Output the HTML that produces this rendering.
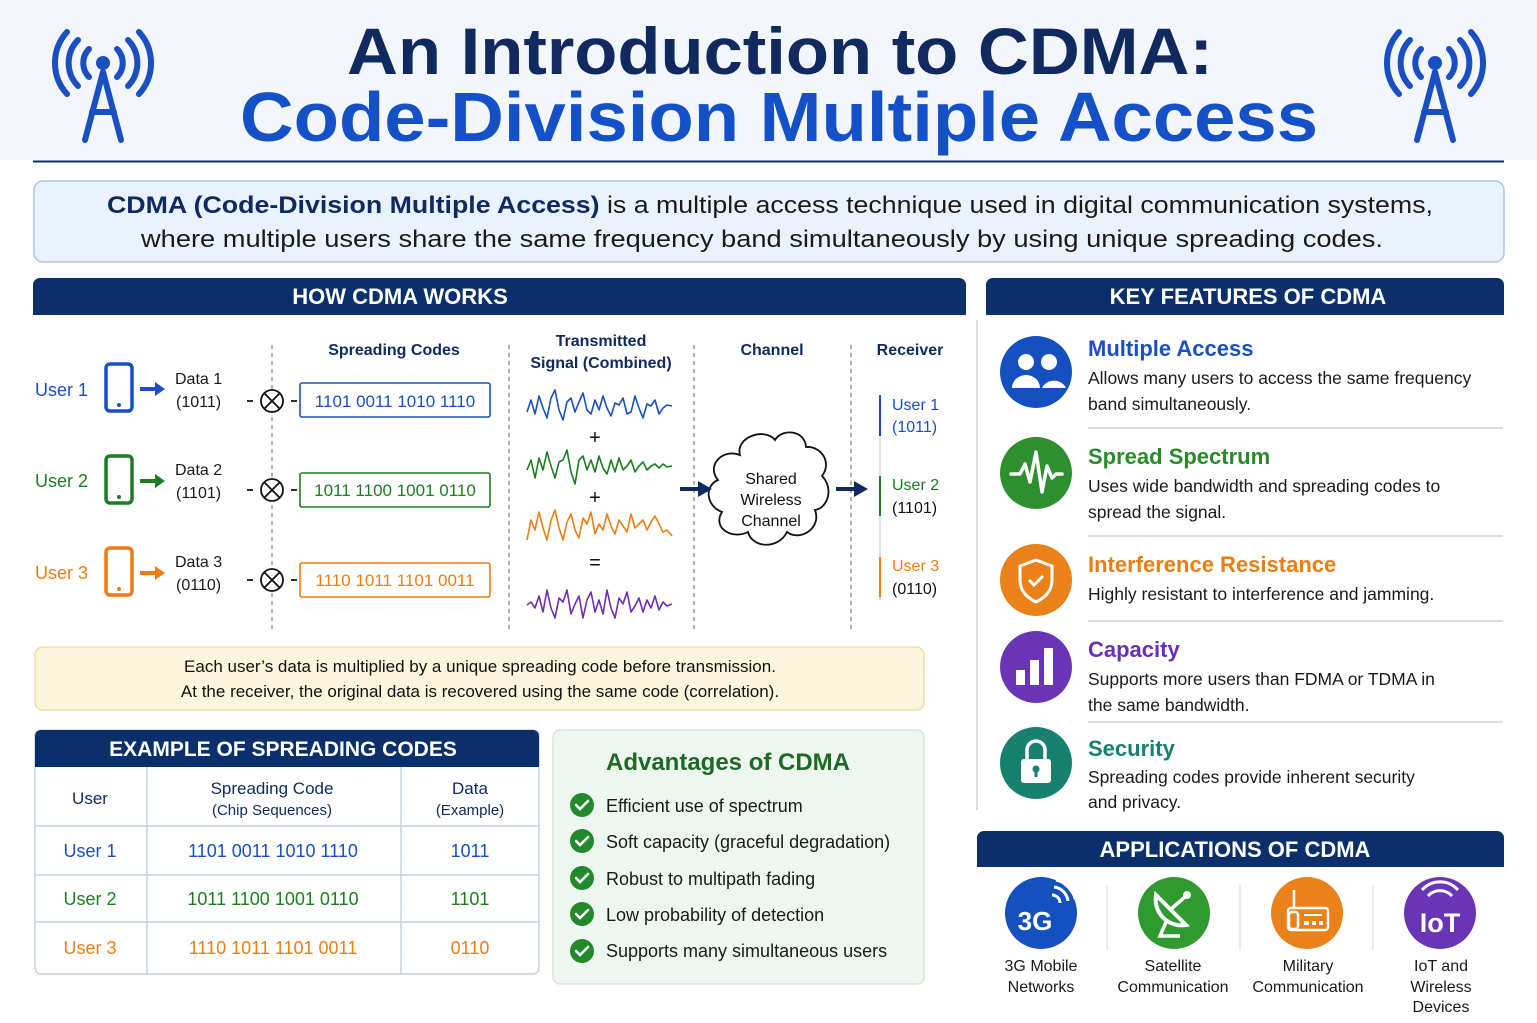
<!DOCTYPE html>
<html><head><meta charset="utf-8"><style>
html,body{margin:0;padding:0;background:#fff}
svg{display:block}
text{font-family:"Liberation Sans",Arial,sans-serif}
</style></head><body>
<svg width="1537" height="1023" viewBox="0 0 1537 1023" xmlns="http://www.w3.org/2000/svg">
<rect x="0" y="0" width="1537" height="1023" fill="#fff"/>
<rect x="0" y="0" width="1537" height="160" fill="#f3f6fb"/>
<line x1="33" y1="161.5" x2="1504" y2="161.5" stroke="#0d2d6b" stroke-width="2"/>

<!-- towers -->
<g id="tw" fill="none" stroke="#1a4fc4" stroke-width="6" stroke-linecap="round">
<path d="M103 72 L85 140 M103 72 L121 140 M92 112 L114 112"/>
<circle cx="103" cy="63" r="7" fill="#1a4fc4" stroke="none"/>
<path d="M89 49 A20 20 0 0 0 89 77 M117 49 A20 20 0 0 1 117 77"/>
<path d="M78 40 A33 33 0 0 0 78 86 M128 40 A33 33 0 0 1 128 86"/>
<path d="M67 32 A46 46 0 0 0 67 94 M139 32 A46 46 0 0 1 139 94"/>
</g>
<use href="#tw" x="1332"/>

<text x="780" y="74" text-anchor="middle" font-size="66" font-weight="bold" fill="#10295e" textLength="866" lengthAdjust="spacingAndGlyphs">An Introduction to CDMA:</text>
<text x="779" y="141" text-anchor="middle" font-size="70" font-weight="bold" fill="#1450c8" textLength="1078" lengthAdjust="spacingAndGlyphs">Code-Division Multiple Access</text>

<rect x="34" y="181" width="1470" height="81" rx="9" fill="#e9f2fd" stroke="#a9c5ec" stroke-width="1.5"/>
<text x="770" y="213" text-anchor="middle" font-size="24" fill="#1a1a1a" textLength="1326" lengthAdjust="spacingAndGlyphs"><tspan font-weight="bold" fill="#10295e">CDMA (Code-Division Multiple Access)</tspan> is a multiple access technique used in digital communication systems,</text>
<text x="762" y="247" text-anchor="middle" font-size="24" fill="#1a1a1a" textLength="1242" lengthAdjust="spacingAndGlyphs">where multiple users share the same frequency band simultaneously by using unique spreading codes.</text>

<!-- section bars -->
<path d="M33 315 V285 a7 7 0 0 1 7 -7 H959 a7 7 0 0 1 7 7 V315 Z" fill="#0b2f6b"/>
<text x="400" y="304" text-anchor="middle" font-size="22" font-weight="bold" fill="#fff">HOW CDMA WORKS</text>
<path d="M986 315 V285 a7 7 0 0 1 7 -7 H1497 a7 7 0 0 1 7 7 V315 Z" fill="#0b2f6b"/>
<text x="1248" y="304" text-anchor="middle" font-size="22" font-weight="bold" fill="#fff">KEY FEATURES OF CDMA</text>
<line x1="977" y1="320" x2="977" y2="810" stroke="#d8dde5" stroke-width="2"/>

<!-- dashed separators -->
<g stroke="#888" stroke-width="1.3" stroke-dasharray="4 4">
<line x1="272" y1="345" x2="272" y2="630"/>
<line x1="509" y1="345" x2="509" y2="630"/>
<line x1="694" y1="345" x2="694" y2="630"/>
<line x1="851" y1="345" x2="851" y2="630"/>
</g>
<g font-size="16" font-weight="bold" fill="#10295e" text-anchor="middle">
<text x="394" y="355">Spreading Codes</text>
<text x="601" y="346">Transmitted</text>
<text x="601" y="368">Signal (Combined)</text>
<text x="772" y="355">Channel</text>
<text x="910" y="355">Receiver</text>
</g>

<!-- users -->
<g font-size="18">
<text x="35" y="396" fill="#1a4fc4">User 1</text>
<text x="35" y="487" fill="#1e7d24">User 2</text>
<text x="35" y="579" fill="#ee7d14">User 3</text>
</g>
<g fill="none" stroke-width="3.5">
<rect x="106" y="364" width="26" height="47" rx="4" stroke="#1a4fc4"/>
<rect x="106" y="456" width="26" height="47" rx="4" stroke="#1e7d24"/>
<rect x="106" y="548" width="26" height="47" rx="4" stroke="#ee7d14"/>
</g>
<circle cx="119" cy="405" r="2" fill="#1a4fc4"/><circle cx="119" cy="497" r="2" fill="#1e7d24"/><circle cx="119" cy="589" r="2" fill="#ee7d14"/>
<g stroke-width="4">
<line x1="140" y1="389" x2="157" y2="389" stroke="#1a4fc4"/><path d="M155 382 L165 389 L155 396Z" fill="#1a4fc4"/>
<line x1="140" y1="481" x2="157" y2="481" stroke="#1e7d24"/><path d="M155 474 L165 481 L155 488Z" fill="#1e7d24"/>
<line x1="140" y1="573" x2="157" y2="573" stroke="#ee7d14"/><path d="M155 566 L165 573 L155 580Z" fill="#ee7d14"/>
</g>
<g font-size="16" fill="#1a1a1a">
<text x="175" y="384">Data 1</text><text x="176" y="407">(1011)</text>
<text x="175" y="475">Data 2</text><text x="176" y="498">(1101)</text>
<text x="175" y="567">Data 3</text><text x="176" y="590">(0110)</text>
</g>
<g stroke="#111" stroke-width="1.8" fill="#fff">
<circle cx="272" cy="401" r="11"/><path d="M264 393 L280 409 M280 393 L264 409"/>
<circle cx="272" cy="490" r="11"/><path d="M264 482 L280 498 M280 482 L264 498"/>
<circle cx="272" cy="580" r="11"/><path d="M264 572 L280 588 M280 572 L264 588"/>
<path d="M247 401h6 M291 401h6 M247 490h6 M291 490h6 M247 580h6 M291 580h6"/>
</g>
<g fill="#fff" stroke-width="1.6">
<rect x="300" y="383" width="190" height="34" rx="2" stroke="#1a4fc4"/>
<rect x="300" y="473" width="190" height="34" rx="2" stroke="#1e7d24"/>
<rect x="300" y="563" width="190" height="34" rx="2" stroke="#ee7d14"/>
</g>
<g font-size="17" text-anchor="middle">
<text x="395" y="407" fill="#1a4fc4">1101 0011 1010 1110</text>
<text x="395" y="496" fill="#1e7d24">1011 1100 1001 0110</text>
<text x="395" y="586" fill="#ee7d14">1110 1011 1101 0011</text>
</g>

<!-- waves -->
<g fill="none" stroke-width="1.6" stroke-linejoin="round">
<polyline stroke="#1a4fc4" points="527,412 531,400 535,414 539,396 543,408 547,418 551,398 555,390 559,410 563,420 567,402 571,398 575,412 579,402 583,393 587,410 591,414 595,400 599,410 603,396 607,408 611,416 615,403 619,405 623,398 627,414 631,412 635,396 639,408 643,418 647,404 651,406 655,400 659,414 663,408 667,405 672,406"/>
<polyline stroke="#1e7d24" points="527,470 531,460 535,478 539,458 543,470 547,452 551,466 555,478 559,462 563,460 567,450 571,472 575,484 579,460 583,456 587,470 591,460 595,472 599,456 603,468 607,474 611,460 615,472 619,458 623,470 627,466 631,460 635,472 639,466 643,462 647,470 651,466 655,464 659,468 663,464 667,467 672,466"/>
<polyline stroke="#ee7d14" points="527,540 531,520 535,530 539,512 543,528 547,540 551,520 555,510 559,528 563,540 567,522 571,514 575,530 579,538 583,518 587,524 591,512 595,534 599,524 603,530 607,514 611,526 615,534 619,520 623,526 627,532 631,514 635,528 639,524 643,520 647,530 651,522 655,516 659,524 663,532 667,530 672,536"/>
<polyline stroke="#6a2fb5" points="527,605 531,602 535,608 539,596 543,612 547,590 551,608 555,618 559,598 563,602 567,590 571,614 575,604 579,596 583,618 587,600 591,592 595,612 599,600 603,614 607,590 611,608 615,618 619,598 623,604 627,592 631,612 635,606 639,598 643,612 647,600 651,608 655,596 659,610 663,602 667,606 672,604"/>
</g>
<g font-size="20" fill="#111" text-anchor="middle">
<text x="595" y="444">+</text><text x="595" y="504">+</text><text x="595" y="569">=</text>
</g>

<!-- cloud -->
<path d="M740 455 C735 437 765 427 775 440 C782 428 805 430 806 447 C822 446 832 463 822 476 C834 488 828 508 815 510 C822 528 800 542 787 532 C778 550 752 548 748 532 C732 540 712 528 722 512 C706 506 704 486 718 480 C706 466 722 448 740 455 Z" fill="#fff" stroke="#111" stroke-width="1.8"/>
<g font-size="16" fill="#111" text-anchor="middle">
<text x="771" y="484">Shared</text><text x="771" y="505">Wireless</text><text x="771" y="526">Channel</text>
</g>
<g fill="#10295e">
<rect x="680" y="487" width="20" height="4"/><path d="M698 481 L712 489 L698 497Z"/>
<rect x="836" y="487" width="20" height="4"/><path d="M854 481 L868 489 L854 497Z"/>
</g>
<line x1="880" y1="395" x2="880" y2="600" stroke="#d4d8de" stroke-width="1.5"/>
<line x1="880" y1="395" x2="880" y2="436" stroke="#1a4fc4" stroke-width="2"/>
<line x1="880" y1="476" x2="880" y2="516" stroke="#1e7d24" stroke-width="2"/>
<line x1="880" y1="557" x2="880" y2="597" stroke="#ee7d14" stroke-width="2"/>
<g font-size="16">
<text x="892" y="410" fill="#1a4fc4">User 1</text><text x="892" y="432" fill="#1a4fc4">(1011)</text>
<text x="892" y="490" fill="#1e7d24">User 2</text><text x="892" y="513" fill="#111">(1101)</text>
<text x="892" y="571" fill="#ee7d14">User 3</text><text x="892" y="594" fill="#111">(0110)</text>
</g>

<!-- note -->
<rect x="35" y="647" width="889" height="63" rx="8" fill="#fdf5dc" stroke="#efd99a" stroke-width="1.3"/>
<g font-size="17" fill="#111" text-anchor="middle">
<text x="480" y="672">Each user’s data is multiplied by a unique spreading code before transmission.</text>
<text x="480" y="697">At the receiver, the original data is recovered using the same code (correlation).</text>
</g>

<!-- table -->
<rect x="35" y="730" width="504" height="244" rx="6" fill="#fff" stroke="#c9d0da" stroke-width="1.5"/>
<path d="M35 767 V736 a6 6 0 0 1 6 -6 H533 a6 6 0 0 1 6 6 V767 Z" fill="#0b2f6b"/>
<text x="283" y="756" text-anchor="middle" font-size="21" font-weight="bold" fill="#fff">EXAMPLE OF SPREADING CODES</text>
<g stroke="#c9d0da" stroke-width="1.5">
<line x1="147" y1="767" x2="147" y2="974"/><line x1="401" y1="767" x2="401" y2="974"/>
<line x1="35" y1="826" x2="539" y2="826"/><line x1="35" y1="875" x2="539" y2="875"/><line x1="35" y1="922" x2="539" y2="922"/>
</g>
<g font-size="17" fill="#10295e" text-anchor="middle">
<text x="90" y="804">User</text>
<text x="272" y="794">Spreading Code</text>
<text x="272" y="815" font-size="15">(Chip Sequences)</text>
<text x="470" y="794">Data</text>
<text x="470" y="815" font-size="15">(Example)</text>
</g>
<g font-size="18" text-anchor="middle">
<text x="90" y="857" fill="#1a4fc4">User 1</text><text x="273" y="857" fill="#1a4fc4">1101  0011  1010  1110</text><text x="470" y="857" fill="#1a4fc4">1011</text>
<text x="90" y="905" fill="#1e7d24">User 2</text><text x="273" y="905" fill="#1e7d24">1011  1100  1001  0110</text><text x="470" y="905" fill="#1e7d24">1101</text>
<text x="90" y="954" fill="#ee7d14">User 3</text><text x="273" y="954" fill="#ee7d14">1110  1011  1101  0011</text><text x="470" y="954" fill="#ee7d14">0110</text>
</g>

<!-- advantages -->
<rect x="553" y="730" width="371" height="254" rx="7" fill="#eef7ef" stroke="#cfe5d2" stroke-width="1.3"/>
<text x="728" y="770" text-anchor="middle" font-size="24" font-weight="bold" fill="#1e6a24">Advantages of CDMA</text>
<g id="ck"><circle cx="582" cy="805" r="12" fill="#238a2c"/><path d="M576 805 l4 4 l8 -8" stroke="#fff" stroke-width="2.6" fill="none" stroke-linecap="round"/></g>
<use href="#ck" y="36"/><use href="#ck" y="73"/><use href="#ck" y="109"/><use href="#ck" y="146"/>
<g font-size="18" fill="#1a1a1a">
<text x="606" y="812">Efficient use of spectrum</text>
<text x="606" y="848">Soft capacity (graceful degradation)</text>
<text x="606" y="885">Robust to multipath fading</text>
<text x="606" y="921">Low probability of detection</text>
<text x="606" y="957">Supports many simultaneous users</text>
</g>

<!-- features -->
<circle cx="1036" cy="372" r="36" fill="#1450c0"/>
<g fill="#fff"><circle cx="1026" cy="362" r="8"/><circle cx="1049" cy="362" r="8"/><path d="M1012 388 a14 13 0 0 1 28 0 Z M1042 388 a13 12 0 0 1 24 0 Z"/></g>
<circle cx="1036" cy="473" r="36" fill="#2e8f2e"/>
<polyline points="1011,474 1020,474 1025,464 1030,482 1036,452 1042,492 1047,466 1052,478 1056,474 1062,474" fill="none" stroke="#fff" stroke-width="3.5" stroke-linejoin="round" stroke-linecap="round"/>
<circle cx="1036" cy="580" r="36" fill="#ea8119"/>
<path d="M1036 560 L1052 566 V580 C1052 592 1044 598 1036 602 C1028 598 1020 592 1020 580 V566 Z" fill="none" stroke="#fff" stroke-width="3"/>
<path d="M1029 580 l5 5 l9 -9" fill="none" stroke="#fff" stroke-width="3"/>
<circle cx="1036" cy="667" r="36" fill="#6a34b6"/>
<g fill="#fff"><rect x="1016" y="670" width="9" height="15"/><rect x="1030" y="660" width="9" height="25"/><rect x="1044" y="648" width="9" height="37"/></g>
<circle cx="1036" cy="763" r="36" fill="#17806e"/>
<path d="M1027 760 V750 a9 9 0 0 1 18 0 V760" fill="none" stroke="#fff" stroke-width="3.5"/>
<rect x="1021" y="759" width="30" height="24" rx="3" fill="#fff"/><circle cx="1036" cy="769" r="3.5" fill="#17806e"/><rect x="1034.5" y="770" width="3" height="7" fill="#17806e"/>

<g stroke="#cfd4db" stroke-width="1.5">
<line x1="1088" y1="428" x2="1503" y2="428"/><line x1="1088" y1="536" x2="1503" y2="536"/>
<line x1="1088" y1="621" x2="1503" y2="621"/><line x1="1088" y1="722" x2="1503" y2="722"/>
</g>
<g font-size="22" font-weight="bold">
<text x="1088" y="356" fill="#1a4fc4">Multiple Access</text>
<text x="1088" y="464" fill="#2a8a2a">Spread Spectrum</text>
<text x="1088" y="572" fill="#ea7d14">Interference Resistance</text>
<text x="1088" y="657" fill="#6a2fb5">Capacity</text>
<text x="1088" y="756" fill="#17806e">Security</text>
</g>
<g font-size="17.5" fill="#1a1a1a">
<text x="1088" y="384">Allows many users to access the same frequency</text>
<text x="1088" y="410">band simultaneously.</text>
<text x="1088" y="492">Uses wide bandwidth and spreading codes to</text>
<text x="1088" y="518">spread the signal.</text>
<text x="1088" y="600">Highly resistant to interference and jamming.</text>
<text x="1088" y="685">Supports more users than FDMA or TDMA in</text>
<text x="1088" y="711">the same bandwidth.</text>
<text x="1088" y="783">Spreading codes provide inherent security</text>
<text x="1088" y="808">and privacy.</text>
</g>

<!-- applications -->
<path d="M977 867 V838 a7 7 0 0 1 7 -7 H1497 a7 7 0 0 1 7 7 V867 Z" fill="#0b2f6b"/>
<text x="1235" y="857" text-anchor="middle" font-size="22" font-weight="bold" fill="#fff">APPLICATIONS OF CDMA</text>
<g stroke="#e0e4ea" stroke-width="1.5">
<line x1="1107" y1="885" x2="1107" y2="950"/><line x1="1240" y1="885" x2="1240" y2="950"/><line x1="1373" y1="885" x2="1373" y2="950"/>
</g>
<circle cx="1041" cy="913" r="36" fill="#1450c0"/>
<text x="1035" y="930" text-anchor="middle" font-size="26" font-weight="bold" fill="#fff">3G</text>
<path d="M1052 895 a8 8 0 0 1 8 8 M1054 887 a16 16 0 0 1 14 14 M1056 880 a24 24 0 0 1 19 19" fill="none" stroke="#fff" stroke-width="3"/>
<circle cx="1174" cy="913" r="36" fill="#2f9a2f"/>
<path d="M1156 895 a26 26 0 0 0 30 30 Z" fill="none" stroke="#fff" stroke-width="4"/>
<path d="M1170 910 L1186 896 M1166 922 L1160 936 H1180" stroke="#fff" stroke-width="3.5" fill="none"/>
<circle cx="1187" cy="895" r="4" fill="#fff"/>
<circle cx="1307" cy="913" r="36" fill="#ea8119"/>
<g fill="none" stroke="#fff" stroke-width="2.5"><line x1="1294" y1="890" x2="1294" y2="908"/><rect x="1288" y="908" width="40" height="22" rx="3"/><rect x="1289" y="912" width="9" height="17" rx="3"/></g>
<g fill="#fff"><rect x="1304" y="914" width="18" height="2"/><rect x="1304" y="921" width="5" height="4"/><rect x="1312" y="921" width="4" height="4"/><rect x="1319" y="921" width="4" height="4"/></g>
<circle cx="1440" cy="913" r="36" fill="#6a34b6"/>
<text x="1440" y="932" text-anchor="middle" font-size="27" font-weight="bold" fill="#fff">IoT</text>
<path d="M1428 896 a16 16 0 0 1 24 0 M1422 890 a24 24 0 0 1 36 0" fill="none" stroke="#fff" stroke-width="3"/>
<g font-size="16" fill="#1a1a1a" text-anchor="middle">
<text x="1041" y="971">3G Mobile</text><text x="1041" y="992">Networks</text>
<text x="1173" y="971">Satellite</text><text x="1173" y="992">Communication</text>
<text x="1308" y="971">Military</text><text x="1308" y="992">Communication</text>
<text x="1441" y="971">IoT and</text><text x="1441" y="992">Wireless</text><text x="1441" y="1012">Devices</text>
</g>
</svg>
</body></html>
